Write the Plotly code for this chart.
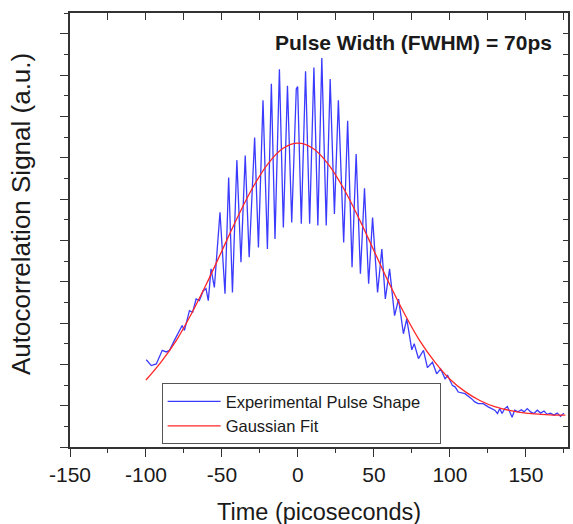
import plotly.graph_objects as go

# Experimental autocorrelation trace
exp_time = [-99.8, -96.5, -93.2, -89.3, -86.7, -84.5, -81.3, -78.0, -76.2, -74.7,
            -71.4, -69.3, -67.0, -64.9, -62.3, -60.5, -59.0, -57.2, -55.0, -51.3,
            -48.0, -45.6, -43.1, -40.2, -37.5, -34.7, -32.1, -28.5, -26.0, -23.0,
            -20.1, -17.5, -15.1, -12.2, -9.6, -6.9, -4.1, -1.1, -0.2, 2.2,
            5.0, 7.7, 10.5, 13.1, 15.7, 18.6, 21.2, 24.0, 26.6, 30.1,
            32.7, 35.6, 38.3, 41.1, 43.8, 46.5, 49.1, 52.4, 55.2, 57.5,
            60.3, 63.6, 66.2, 69.4, 71.6, 74.9, 76.5, 79.3, 82.6, 85.2,
            88.5, 91.3, 93.9, 96.8, 98.5, 101.6, 103.5, 105.5, 109.9, 114.2,
            116.4, 118.6, 121.9, 125.2, 127.3, 129.5, 131.3, 132.8, 134.3, 136.1,
            137.8, 139.4, 140.9, 142.6, 144.8, 147.0, 148.8, 150.9, 153.1, 155.3,
            157.5, 159.7, 161.9, 164.0, 166.2, 168.4, 170.6, 172.8, 175.0]
exp_signal = [2.11, 1.97, 2.01, 2.34, 2.30, 2.34, 2.58, 2.82, 2.94, 2.82,
              3.30, 3.26, 3.58, 3.54, 3.78, 3.83, 3.54, 4.31, 3.86, 5.68,
              3.71, 6.52, 3.74, 6.94, 4.47, 7.05, 4.59, 7.49, 4.83, 8.39,
              4.79, 8.79, 5.03, 9.14, 5.31, 8.74, 5.43, 8.66, 8.72, 5.40,
              9.09, 5.40, 9.18, 5.36, 9.41, 5.36, 8.90, 5.64, 8.39, 4.95,
              7.89, 4.35, 7.09, 4.19, 6.26, 3.95, 5.55, 3.74, 4.79, 3.58,
              4.31, 3.18, 3.58, 2.74, 3.10, 2.35, 2.50, 2.14, 2.34, 1.92,
              2.05, 1.77, 1.89, 1.65, 1.73, 1.49, 1.45, 1.33, 1.29, 1.17,
              1.09, 1.05, 1.05, 0.97, 0.93, 0.89, 0.81, 0.93, 0.81, 0.93,
              0.98, 0.85, 0.72, 0.89, 0.85, 0.90, 0.85, 0.93, 0.85, 0.81,
              0.89, 0.82, 0.87, 0.79, 0.82, 0.77, 0.82, 0.74, 0.82]

# Gaussian fit curve
fit_time = [-100, -90, -80, -70, -60, -50, -40, -30, -20, -10, 0,
            10, 20, 30, 40, 50, 60, 70, 80, 90, 100,
            110, 120, 130, 140, 150, 160, 170, 176]
fit_signal = [1.62, 2.06, 2.58, 3.23, 3.96, 4.75, 5.54, 6.26, 6.84, 7.22, 7.35,
              7.22, 6.84, 6.26, 5.54, 4.75, 3.96, 3.23, 2.58, 2.06, 1.64,
              1.34, 1.12, 0.97, 0.88, 0.82, 0.79, 0.77, 0.77]

x_tick_values = [-150, -100, -50, 0, 50, 100, 150]
x_tick_labels = ["-150", "-100", "-50", "0", "50", "100", "150"]

x_range = [-150, 177.7]
y_range = [0, 10.5]

FONT = "Liberation Sans, Arial, sans-serif"
AX = "#333333"
PAD = "\u00a0\u00a0\u00a0"

fig = go.Figure()
fig.add_trace(go.Scatter(x=exp_time, y=exp_signal, mode="lines",
                         name="Experimental Pulse Shape" + PAD,
                         line=dict(color="#3b3bff", width=1.3)))
fig.add_trace(go.Scatter(x=fit_time, y=fit_signal, mode="lines",
                         name="Gaussian Fit",
                         line=dict(color="#ff2626", width=1.3, shape="spline")))

fig.update_layout(
    width=573, height=524,
    margin=dict(l=70, r=3, t=13, b=77),
    paper_bgcolor="white", plot_bgcolor="white",
    font=dict(family=FONT, color="#1a1a1a"),
    xaxis=dict(range=x_range, tickvals=x_tick_values, ticktext=x_tick_labels,
               ticks="outside", ticklen=8, tickwidth=1.3, tickcolor=AX,
               minor=dict(ticks="outside", ticklen=4, dtick=25, tick0=-150,
                          tickcolor=AX, tickwidth=1.3),
               showline=True, linecolor=AX, linewidth=1.5, mirror=True,
               showgrid=False, zeroline=False,
               tickfont=dict(size=21, family=FONT, color="#1a1a1a")),
    xaxis2=dict(range=x_range, overlaying="x", side="top", anchor="y",
                ticks="inside", ticklen=7, tickwidth=1.3, tickcolor=AX,
                dtick=25, tick0=-150, showticklabels=False,
                showline=False, showgrid=False, zeroline=False),
    yaxis=dict(range=y_range, dtick=1, tick0=0,
               ticks="outside", ticklen=8, tickwidth=1.3, tickcolor=AX,
               minor=dict(ticks="outside", ticklen=4, dtick=0.5, tick0=0,
                          tickcolor=AX, tickwidth=1.3),
               showticklabels=False,
               showline=True, linecolor=AX, linewidth=1.5, mirror=True,
               showgrid=False, zeroline=False),
    yaxis2=dict(range=y_range, overlaying="y", side="right", anchor="x",
                ticks="inside", ticklen=5, tickwidth=1.3, tickcolor=AX,
                dtick=0.5, tick0=0, showticklabels=False,
                showline=False, showgrid=False, zeroline=False),
    legend=dict(x=0.184, y=0.147, xanchor="left", yanchor="top",
                bgcolor="white", bordercolor="#555555", borderwidth=1,
                font=dict(size=16.5, family=FONT, color="#1a1a1a"),
                itemwidth=53, tracegroupgap=0),
    showlegend=True,
)

# invisible trace so the mirror axes render
fig.add_trace(go.Scatter(x=[None], y=[None], xaxis="x2", yaxis="y2",
                         showlegend=False, hoverinfo="skip"))

fig.add_annotation(text="Autocorrelation Signal (a.u.)", xref="paper", yref="paper",
                   x=-0.097, y=0.536, xanchor="center", yanchor="middle",
                   textangle=-90, showarrow=False,
                   font=dict(size=26, family=FONT, color="#1a1a1a"))
fig.add_annotation(text="Time (picoseconds)", xref="paper", yref="paper",
                   x=0.5, y=-0.150, xanchor="center", yanchor="middle",
                   showarrow=False,
                   font=dict(size=23.5, family=FONT, color="#1a1a1a"))
fig.add_annotation(text="<b>Pulse Width (FWHM) = 70ps</b>", xref="paper", yref="paper",
                   x=0.69, y=0.9325, xanchor="center", yanchor="middle",
                   showarrow=False,
                   font=dict(size=21, family=FONT, color="#1a1a1a"))

fig.write_html("out.html")
